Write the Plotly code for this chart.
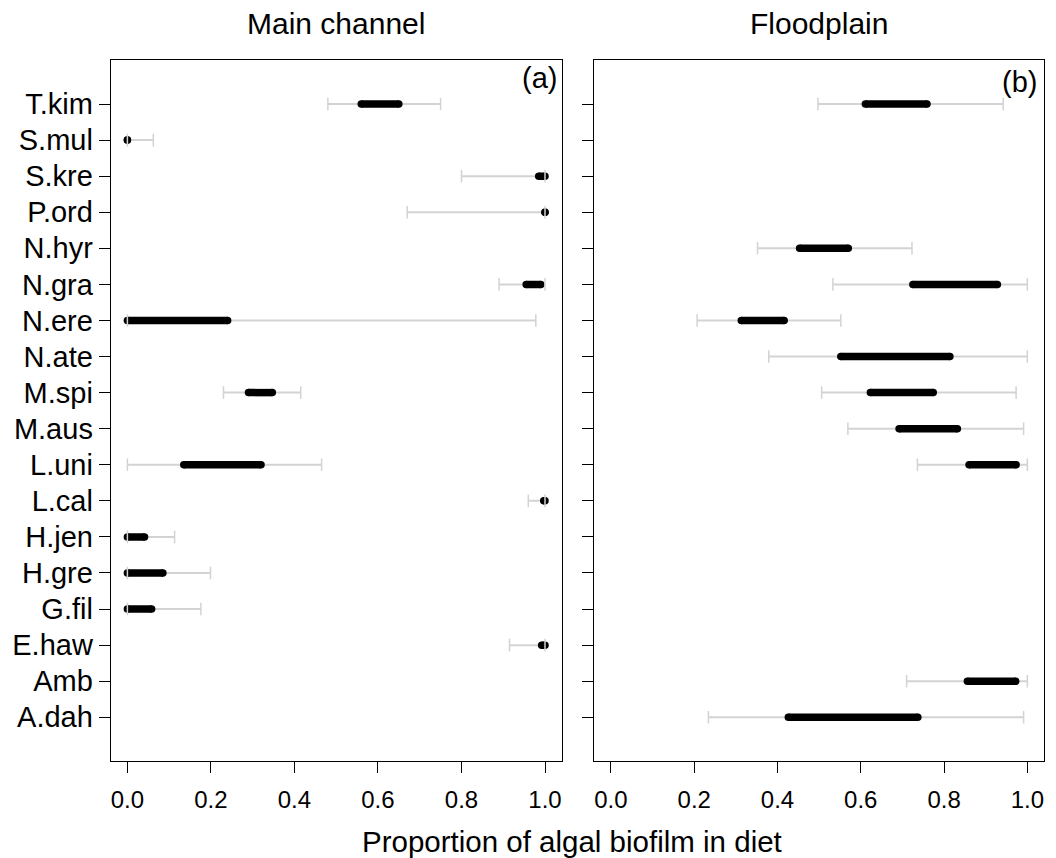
import plotly.graph_objects as go

# Reference canvas size; the page body adds an 8px margin, so the figure is
# drawn 8px smaller and every reference pixel position is shifted by -8.
REF_W, REF_H = 1056, 858
OFF = 8
W, H = REF_W - OFF, REF_H - OFF

species = ["T.kim", "S.mul", "S.kre", "P.ord", "N.hyr", "N.gra", "N.ere", "N.ate", "M.spi",
           "M.aus", "L.uni", "L.cal", "H.jen", "H.gre", "G.fil", "E.haw", "Amb", "A.dah"]

# Main channel: 95% lower, 50% lower, 50% upper, 95% upper (None = absent)
main_lo95 = [0.48, 0.0, 0.80, 0.67, None, 0.89, 0.0, None, 0.23, None, 0.0, 0.96, 0.0, 0.0, 0.0, 0.915, None, None]
main_lo50 = [0.56, 0.0, 0.985, 1.0, None, 0.955, 0.0, None, 0.29, None, 0.135, 0.997, 0.0, 0.0, 0.0, 0.992, None, None]
main_hi50 = [0.65, 0.0, 1.0, 1.0, None, 0.99, 0.24, None, 0.347, None, 0.32, 1.0, 0.041, 0.085, 0.058, 1.0, None, None]
main_hi95 = [0.75, 0.062, 1.0, 1.0, None, 1.0, 0.978, None, 0.415, None, 0.465, 1.0, 0.113, 0.199, 0.176, 1.0, None, None]

# Floodplain
flood_lo95 = [0.497, None, None, None, 0.352, 0.533, 0.207, 0.379, 0.506, 0.569, 0.736, None, None, None, None, None, 0.710, 0.234]
flood_lo50 = [0.611, None, None, None, 0.453, 0.725, 0.313, 0.552, 0.623, 0.692, 0.860, None, None, None, None, None, 0.856, 0.426]
flood_hi50 = [0.759, None, None, None, 0.570, 0.928, 0.416, 0.814, 0.774, 0.832, 0.973, None, None, None, None, None, 0.972, 0.737]
flood_hi95 = [0.942, None, None, None, 0.723, 1.0, 0.552, 1.0, 0.973, 0.991, 1.0, None, None, None, None, None, 1.0, 0.991]

x_ticks = [0.0, 0.2, 0.4, 0.6, 0.8, 1.0]
x_ticktext = ["0.0", "0.2", "0.4", "0.6", "0.8", "1.0"]

n = len(species)
ypos = [n - i for i in range(n)]

GREY = "#d3d3d3"
FONT = "Arial, Liberation Sans, sans-serif"


def px(x):
    return (x - OFF) / W


def py(y):
    return 1 - (y - OFF) / H


fig = go.Figure()


def add_panel(lo95, lo50, hi50, hi95, xa, ya):
    gx, gy, bx, by = [], [], [], []
    for i in range(n):
        if lo95[i] is None:
            continue
        gx += [lo95[i], hi95[i], None]
        gy += [ypos[i], ypos[i], None]
        bx += [lo50[i], hi50[i], None]
        by += [ypos[i], ypos[i], None]
    fig.add_trace(go.Scatter(x=gx, y=gy, mode="lines", xaxis=xa, yaxis=ya,
                             line=dict(color=GREY, width=2), showlegend=False, hoverinfo="skip"))
    fig.add_trace(go.Scatter(x=bx, y=by, mode="lines+markers", xaxis=xa, yaxis=ya,
                             line=dict(color="black", width=7.5),
                             marker=dict(color="black", size=7.5, symbol="circle", line=dict(width=0)),
                             showlegend=False, hoverinfo="skip"))
    fig.add_trace(go.Scatter(x=gx, y=gy, mode="markers", xaxis=xa, yaxis=ya,
                             marker=dict(symbol="line-ns", size=9, color=GREY,
                                         line=dict(color=GREY, width=1.5)),
                             showlegend=False, hoverinfo="skip"))


add_panel(main_lo95, main_lo50, main_hi50, main_hi95, "x", "y")
add_panel(flood_lo95, flood_lo50, flood_hi50, flood_hi95, "x2", "y2")

top, bottom = 60, 761.3
ydom = [py(bottom), py(top)]
x1dom = [px(110.7), px(561.7)]
x2dom = [px(594.3), px(1044)]

xcommon = dict(range=[-0.04, 1.04], tickvals=x_ticks, ticktext=x_ticktext,
               ticks="outside", ticklen=11, tickwidth=1, tickcolor="black",
               showline=True, mirror=True, linecolor="black", linewidth=1,
               showgrid=False, zeroline=False, ticklabelstandoff=6,
               tickfont=dict(family=FONT, size=24, color="black"))
ycommon = dict(range=[-0.22, n + 1.22], tickvals=ypos, ticktext=species,
               ticks="outside", ticklen=11, tickwidth=1, tickcolor="black",
               showline=True, mirror=True, linecolor="black", linewidth=1,
               showgrid=False, zeroline=False, domain=ydom,
               tickfont=dict(family=FONT, size=29, color="black"))

fig.update_layout(
    width=W, height=H,
    margin=dict(l=0, r=0, t=0, b=0),
    paper_bgcolor="white", plot_bgcolor="white",
    xaxis=dict(domain=x1dom, anchor="y", **xcommon),
    xaxis2=dict(domain=x2dom, anchor="y2", **xcommon),
    yaxis=dict(anchor="x", **ycommon),
    yaxis2=dict(anchor="x2", showticklabels=False, **ycommon),
    annotations=[
        dict(text="Main channel", x=(x1dom[0] + x1dom[1]) / 2, y=py(24), xref="paper", yref="paper",
             xanchor="center", yanchor="middle", showarrow=False, font=dict(family=FONT, size=30, color="black")),
        dict(text="Floodplain", x=(x2dom[0] + x2dom[1]) / 2, y=py(24), xref="paper", yref="paper",
             xanchor="center", yanchor="middle", showarrow=False, font=dict(family=FONT, size=30, color="black")),
        dict(text="(a)", x=px(559), y=py(78), xref="paper", yref="paper",
             xanchor="right", yanchor="middle", showarrow=False, font=dict(family=FONT, size=29, color="black")),
        dict(text="(b)", x=px(1039), y=py(82), xref="paper", yref="paper",
             xanchor="right", yanchor="middle", showarrow=False, font=dict(family=FONT, size=29, color="black")),
        dict(text="Proportion of algal biofilm in diet", x=px(571.5), y=py(841), xref="paper", yref="paper",
             xanchor="center", yanchor="middle", showarrow=False, font=dict(family=FONT, size=29.5, color="black")),
    ],
)

fig.write_html("out.html")
